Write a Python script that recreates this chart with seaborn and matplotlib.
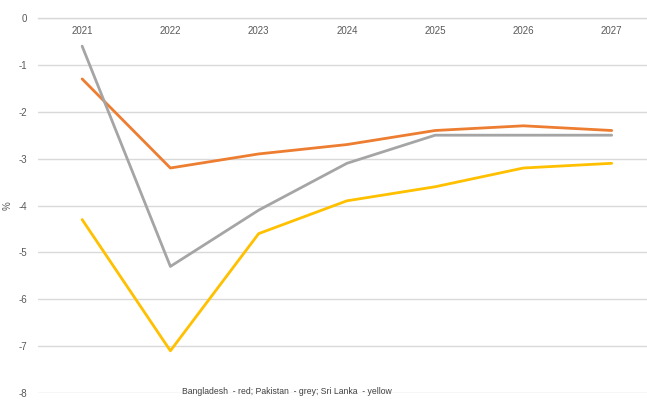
import matplotlib
matplotlib.use("Agg")
import matplotlib.pyplot as plt
from matplotlib import font_manager
import seaborn as sns
import pandas as pd

years = [2021, 2022, 2023, 2024, 2025, 2026, 2027]
bangladesh = [-1.3, -3.2, -2.9, -2.7, -2.4, -2.3, -2.4]
pakistan = [-0.6, -5.3, -4.1, -3.1, -2.5, -2.5, -2.5]
sri_lanka = [-4.3, -7.1, -4.6, -3.9, -3.6, -3.2, -3.1]
series_names = ["Bangladesh", "Pakistan", "Sri Lanka"]
colors = ["#ED7D31", "#A5A5A5", "#FFC000"]
y_ticks = [0, -1, -2, -3, -4, -5, -6, -7, -8]
note = "Bangladesh  - red; Pakistan  - grey; Sri Lanka  - yellow"

rows = []
for name, vals in zip(series_names, [bangladesh, pakistan, sri_lanka]):
    for y, v in zip(years, vals):
        rows.append({"year": y, "value": v, "country": name})
df = pd.DataFrame(rows)

sns.set_theme(style="white")
plt.rcParams["font.family"] = ["Liberation Sans", "DejaVu Sans"]

try:
    font_manager.findfont("Liberation Sans Narrow", fallback_to_default=False)
    narrow = ["Liberation Sans Narrow", "Liberation Sans", "DejaVu Sans"]
    note_size = 7
except Exception:
    narrow = ["Liberation Sans", "DejaVu Sans"]
    note_size = 6.2

fig = plt.figure(figsize=(6.47, 4.09), dpi=100)
ax = fig.add_axes([38 / 647, 1 - 393 / 409, 1 - 38 / 647, 375 / 409])

sns.lineplot(data=df, x="year", y="value", hue="country", palette=colors,
             hue_order=series_names, linewidth=2.0, legend=False, ax=ax, zorder=3)

ax.set_ylim(-8, 0)
ax.set_xlim(2020.5, 2027.4)
ax.set_yticks(y_ticks)
ax.set_yticklabels([str(t) for t in y_ticks])
ax.set_xticks(years)
ax.set_xticklabels([str(y) for y in years])
ax.grid(axis="y", color="#D9D9D9", linewidth=1.0, zorder=0)
ax.grid(axis="x", visible=False)
for s in ["top", "right", "left"]:
    ax.spines[s].set_visible(False)
ax.spines["bottom"].set_position(("data", 0))
ax.spines["bottom"].set_color("#D9D9D9")
ax.spines["bottom"].set_linewidth(1.0)
ax.tick_params(axis="both", length=0, colors="#595959", labelsize=7)
ax.tick_params(axis="x", pad=6)
ax.tick_params(axis="y", pad=8)
ax.set_xlabel("")
ax.set_ylabel("%", color="#595959", fontsize=7, labelpad=4)
ax.text(2023.32, -7.97, note, ha="center", va="center", fontsize=note_size,
        color="#404040", family=narrow)

fig.savefig("out.png", dpi=100)
